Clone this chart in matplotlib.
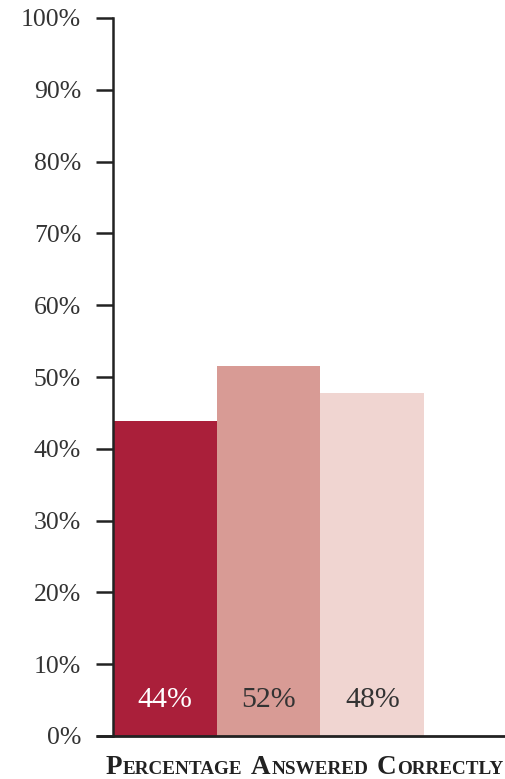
import matplotlib.pyplot as plt

# values (percent answered correctly)
groups = ['A', 'B', 'C']
values = [43.9, 51.5, 47.8]
value_labels = ['44%', '52%', '48%']
bar_colors = ['#AA1F3A', '#D89B95', '#F0D5D1']
label_colors = ['white', '#333333', '#333333']
yticks = list(range(0, 101, 10))

serif = 'Liberation Serif'

fig = plt.figure(figsize=(5.06, 7.79), dpi=100)
ax = fig.add_axes([113 / 506, 1 - 736 / 779, 1 - 113 / 506, (736 - 18) / 779])

xs = [i + 0.5 for i in range(len(groups))]
ax.bar(xs, values, width=1.0, color=bar_colors, linewidth=0)

for x, lab, c in zip(xs, value_labels, label_colors):
    ax.text(x, 5, lab, ha='center', va='center', fontsize=21.5,
            color=c, family=serif)

ax.set_xlim(0, (506 - 113) / 103.7)
ax.set_ylim(0, 100)
ax.set_yticks(yticks)
ax.set_yticklabels([f'{v}%' for v in yticks], family=serif, fontsize=18.5,
                   color='#333333')
ax.set_xticks([])
ax.tick_params(axis='y', length=12, width=1.8, pad=11, color='#222222')

for side in ['top', 'right', 'bottom']:
    ax.spines[side].set_visible(False)
ax.spines['left'].set_linewidth(1.8)
ax.spines['left'].set_color('#222222')

# baseline runs from under the 0% tick to the right edge
ax.plot([-17 / 393, 1], [0, 0], transform=ax.transAxes, color='#222222',
        lw=2, clip_on=False, solid_capstyle='butt')

# small-caps title built from pieces (runs off the right edge, as in the original)
fig.canvas.draw()
r = fig.canvas.get_renderer()
pieces = [('P', 19.5), ('ERCENTAGE', 13.8), (' ', 0), ('A', 19.5),
          ('NSWERED', 13.8), (' ', 0), ('C', 19.5), ('ORRECTLY', 13.8)]
x = 106
y = 1 - 774 / 779
for s, size in pieces:
    if s == ' ':
        x += 8
        continue
    t = fig.text(x / 506, y, s, fontsize=size, fontweight='bold',
                 family=serif, color='#222222', va='baseline')
    x += t.get_window_extent(r).width + 0.5

fig.savefig('out.png', dpi=100)
